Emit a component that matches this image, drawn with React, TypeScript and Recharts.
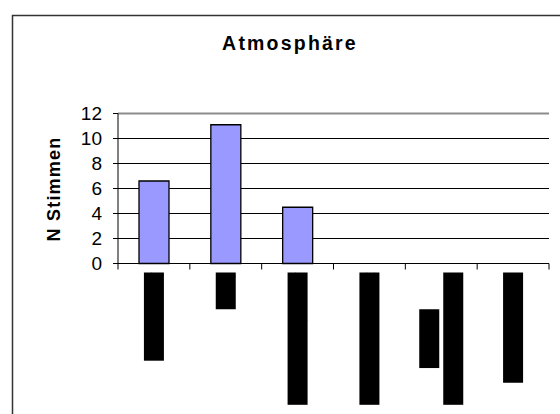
import React from 'react';
import { BarChart, Bar, XAxis, YAxis, CartesianGrid, ReferenceLine } from 'recharts';

// ---- data ----
const CATEGORIES = [
  'sehr positiv',
  'mäßig',
  'eher nicht positiv',
  'ganz und gar nicht',
  'Kann ich\nleider nicht sagen',
  'sonstige Angabe',
];
const VOTES = [6.6, 11.1, 4.5, 0, 0, 0];
const Y_TICKS = [0, 2, 4, 6, 8, 10, 12];
const TITLE = 'Atmosphäre';
const Y_LABEL = 'N Stimmen';

const data = CATEGORIES.map((c, i) => ({ name: c, value: VOTES[i] }));

// ---- layout ----
const W = 560;
const H = 414;
const Y_AXIS_W = 60;
const MARGIN = { top: 113.5, right: 11, left: 118 - Y_AXIS_W, bottom: 10.5 };
const X_AXIS_H = 140;
const TICK_SIZE = 5;
const TICK_MARGIN = 4;
const PLOT_W = W - MARGIN.right - MARGIN.left - Y_AXIS_W;
const STEP = PLOT_W / CATEGORIES.length;
const FONT = 'Arial, "Liberation Sans", sans-serif';
const CHAR_W = 7.35;
const LINE_W = 20;
const LINE_GAP = 4;

const CatTick = (props: any) => {
  const { x, y, payload, index } = props;
  const axisY = y - TICK_SIZE - TICK_MARGIN;
  const lines = String(payload.value).split('\n');
  const total = lines.length * LINE_W + (lines.length - 1) * LINE_GAP;
  const maxLen = Math.max(...lines.map((l) => l.length)) * CHAR_W;
  const top = axisY + 9;
  return (
    <g>
      <line x1={x - STEP / 2} x2={x - STEP / 2} y1={axisY} y2={axisY + 6} stroke="#000" strokeWidth={1} />
      {index === CATEGORIES.length - 1 && (
        <line x1={x + STEP / 2} x2={x + STEP / 2} y1={axisY} y2={axisY + 6} stroke="#000" strokeWidth={1} />
      )}
      {lines.map((ln, i) => {
        const lx = x - total / 2 + i * (LINE_W + LINE_GAP);
        const len = ln.length * CHAR_W;
        const ly = top + (maxLen - len) / 2;
        return (
          <g key={i}>
            <rect x={lx} y={ly} width={LINE_W} height={len} fill="#000" />
            <text
              x={0}
              y={0}
              transform={`translate(${lx + LINE_W - 4},${ly}) rotate(-90)`}
              textAnchor="end"
              fontFamily={FONT}
              fontSize={17}
              fill="#000"
              textLength={len}
              lengthAdjust="spacingAndGlyphs"
            >
              {ln}
            </text>
          </g>
        );
      })}
    </g>
  );
};

const YLabel = (props: any) => {
  const vb = props.viewBox || {};
  const cx = 54;
  const cy = (vb.y ?? 113.5) + (vb.height ?? 150) / 2 + 0.5;
  return (
    <text
      x={cx}
      y={cy}
      transform={`rotate(-90, ${cx}, ${cy})`}
      textAnchor="middle"
      dominantBaseline="central"
      fontFamily={FONT}
      fontWeight="bold"
      fontSize={18}
      letterSpacing={1.2}
      fill="#000"
    >
      {Y_LABEL}
    </text>
  );
};

export default function App() {
  return (
    <div style={{ position: 'absolute', left: 0, top: 0, width: W, height: H, overflow: 'hidden', background: '#fff' }}>
      <svg width={W} height={H} style={{ position: 'absolute', left: 0, top: 0 }}>
        <rect x={12.5} y={15.5} width={556} height={420} fill="#fff" stroke="#333" strokeWidth={1.5} />
        <text
          x={290}
          y={49.5}
          textAnchor="middle"
          fontFamily={FONT}
          fontWeight="bold"
          fontSize={19.5}
          letterSpacing={2.2}
          fill="#000"
        >
          {TITLE}
        </text>
      </svg>
      <div style={{ position: 'absolute', left: 0, top: 0 }}>
        <BarChart width={W} height={H} data={data} margin={MARGIN} barSize={30}>
          <CartesianGrid vertical={false} stroke="#000" strokeWidth={1} />
          <XAxis
            dataKey="name"
            height={X_AXIS_H}
            interval={0}
            axisLine={{ stroke: '#000', strokeWidth: 1 }}
            tickLine={false}
            tickSize={TICK_SIZE}
            tickMargin={TICK_MARGIN}
            tick={<CatTick />}
          />
          <XAxis xAxisId="n" type="number" domain={[0, 6]} hide allowDataOverflow />
          <YAxis
            width={Y_AXIS_W}
            domain={[0, 12]}
            ticks={Y_TICKS}
            interval={0}
            axisLine={{ stroke: '#000', strokeWidth: 1 }}
            tickLine={{ stroke: '#000', strokeWidth: 1 }}
            tickSize={TICK_SIZE}
            tickMargin={11}
            tick={{ fontFamily: FONT, fontSize: 19, fill: '#000' }}
            label={<YLabel />}
          />
          <ReferenceLine y={12} stroke="#8c8c8c" strokeWidth={2} />
          <ReferenceLine xAxisId="n" x={6} stroke="#8c8c8c" strokeWidth={2} />
          <Bar dataKey="value" fill="#9999FF" stroke="#000" strokeWidth={1.3} isAnimationActive={false} />
        </BarChart>
      </div>
    </div>
  );
}
